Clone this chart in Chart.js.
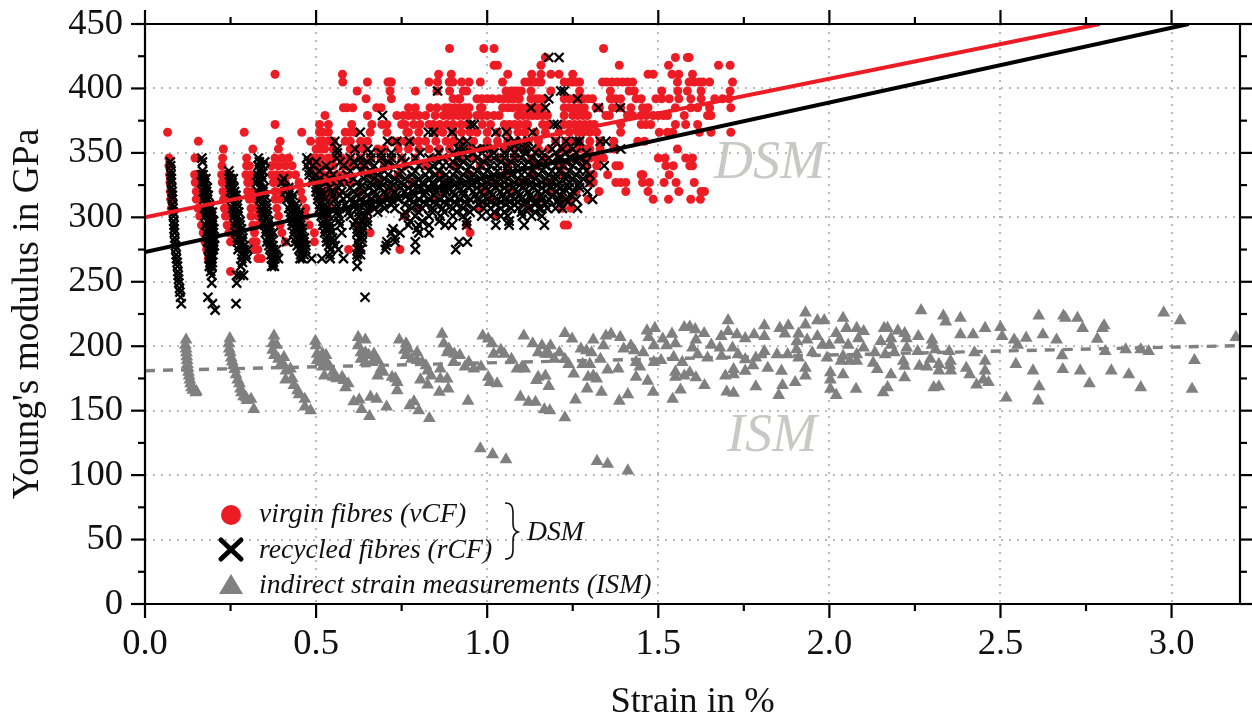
<!DOCTYPE html>
<html>
<head>
<meta charset="utf-8">
<title>Young's modulus vs strain</title>
<script src="https://cdn.jsdelivr.net/npm/chart.js@4"></script>
<style>
  body { margin: 0; background: #fff; }
  canvas { display: block; }
</style>
</head>
<body>
<canvas id="chart" width="1252" height="719"></canvas>
<script>
// Axis ticks
const strainMajor = [0, 0.5, 1.0, 1.5, 2.0, 2.5, 3.0];
const strainMinor = [0.25, 0.75, 1.25, 1.75, 2.25, 2.75];
const modulusMajor = [0, 50, 100, 150, 200, 250, 300, 350, 400, 450];
const modulusMinor = [25, 75, 125, 175, 225, 275, 325, 375, 425];

// Fit lines
const vcfFit = [{x: 0, y: 300}, {x: 2.79, y: 450}];
const rcfFit = [{x: 0, y: 273}, {x: 3.05, y: 450}];
const ismFit = [{x: 0, y: 181}, {x: 3.2, y: 200.5}];

// Virgin fibres: modulus level, then the strains measured at that level
const vcfRows = [
  [431, [.89,.99,1.02,1.34]],
  [424, [1.17,1.55,1.585,1.59]],
  [418, [1.02,1.03,1.157,1.386,1.53,1.676,1.71]],
  [411, [.38,.577,.858,.895,1.06,1.13,1.157,1.186,1.21,1.25,1.47,1.485,1.54,1.56,1.6]],
  [405, [.578,.65,.71,.715,.72,.83,.855,.889,.9,.925,.947,.98,1.045,1.11,1.12,1.13,1.14,1.15,1.157,1.225,1.24,1.25,1.26,1.27,1.337,1.35,1.365,1.38,1.395,1.41,1.425,1.556,1.59,1.605,1.62,1.63,1.65,1.717]],
  [398, [.62,.716,.79,.853,.89,.93,.94,1.055,1.07,1.08,1.09,1.1,1.128,1.186,1.27,1.36,1.415,1.43,1.51,1.557,1.585,1.625,1.71]],
  [392, [.646,.72,.9,.916,.92,.97,.985,1,1.015,1.035,1.05,1.065,1.08,1.094,1.128,1.143,1.153,1.167,1.225,1.24,1.255,1.265,1.28,1.295,1.308,1.36,1.375,1.39,1.435,1.45,1.493,1.51,1.532,1.56,1.595,1.625,1.665,1.688,1.707]],
  [385, [.58,.59,.607,.677,.69,.77,.79,.833,.853,.877,.89,.906,.92,.935,.947,.98,.985,1.045,1.06,1.074,1.09,1.1,1.118,1.133,1.147,1.162,1.225,1.24,1.255,1.27,1.284,1.318,1.328,1.366,1.39,1.42,1.454,1.47,1.55,1.595,1.615,1.65,1.712]],
  [379, [.526,.65,.736,.755,.77,.785,.8,.82,.848,.872,.887,.9,.916,.93,.945,.97,.985,1,1.02,1.035,1.09,1.105,1.12,1.133,1.147,1.162,1.176,1.225,1.25,1.265,1.28,1.293,1.347,1.357,1.41,1.425,1.45,1.465,1.485,1.5,1.515,1.527,1.576,1.644,1.654]],
  [372, [.38,.51,.536,.604,.663,.692,.707,.75,.76,.785,.804,.83,.843,.862,.882,.9,.923,.942,.986,1.01,1.05,1.065,1.08,1.095,1.11,1.118,1.162,1.18,1.225,1.24,1.255,1.27,1.285,1.3,1.313,1.39,1.45,1.464,1.478,1.55,1.58,1.615]],
  [366, [.066,.29,.458,.51,.52,.536,.585,.6,.614,.658,.707,.765,.77,.8,.85,.87,.9,.925,.95,.97,1,1.03,1.06,1.09,1.11,1.14,1.17,1.21,1.24,1.265,1.28,1.3,1.32,1.39,1.503,1.527,1.542,1.62,1.654,1.712]],
  [359, [.156,.395,.484,.51,.52,.535,.55,.585,.6,.63,.65,.72,.74,.76,.78,.8,.82,.85,.88,.9,.93,.96,1,1.03,1.06,1.09,1.12,1.15,1.2,1.23,1.25,1.27,1.3,1.33,1.37,1.44,1.46]],
  [353, [.229,.315,.39,.5,.51,.525,.55,.6,.62,.64,.68,.7,.74,.77,.8,.83,.86,.89,.92,.95,.98,1.02,1.05,1.08,1.11,1.15,1.18,1.22,1.24,1.27,1.29,1.3,1.33,1.37,1.556]],
  [346, [.07,.146,.227,.297,.38,.4,.42,.49,.5,.515,.535,.55,.575,.6,.63,.66,.69,.72,.75,.79,.84,.88,.92,.96,1,1.04,1.08,1.13,1.17,1.21,1.25,1.28,1.3,1.32,1.34,1.5,1.52,1.58,1.6]],
  [340, [.07,.225,.297,.305,.37,.39,.41,.43,.495,.515,.53,.55,.58,.6,.64,.7,.76,.82,.9,.98,1.06,1.14,1.22,1.29,1.32,1.376,1.386,1.522,1.544,1.592,1.6]],
  [333, [.072,.145,.15,.155,.224,.232,.24,.295,.31,.37,.385,.4,.42,.44,.5,.52,.54,.56,.58,.66,.74,.86,.95,1.05,1.13,1.22,1.3,1.31,1.352,1.45,1.455,1.532]],
  [327, [.073,.147,.153,.226,.238,.3,.31,.375,.39,.41,.45,.505,.53,.55,.58,.6,.68,.78,.88,1.02,1.1,1.18,1.3,1.31,1.376,1.39,1.405,1.454,1.474,1.517,1.552,1.605]],
  [320, [.074,.15,.158,.228,.24,.3,.315,.38,.4,.455,.51,.53,.555,.63,.72,.87,.99,1.07,1.19,1.26,1.327,1.405,1.47,1.56,1.625,1.635]],
  [314, [.075,.15,.16,.23,.24,.305,.32,.38,.395,.46,.51,.54,.69,.85,1.01,1.15,1.22,1.245,1.295,1.485,1.53,1.595,1.623]],
  [307, [.077,.155,.165,.232,.245,.31,.325,.385,.47,.52,.54,.66,.8,.98,1.12,1.22,1.245]],
  [301, [.16,.17,.235,.25,.31,.33,.39,.47,.53,.64,.76,1.025]],
  [294, [.165,.24,.255,.315,.33,.395,.48,.62,.94,1.225,1.235]],
  [288, [.17,.245,.26,.32,.4,.495,.658,.95]],
  [281, [.175,.25,.315,.325,.41,.495]],
  [275, [.18,.32,.33,.595,.745]],
  [268, [.185,.33,.34]],
  [262, [.19,.192]],
  [258, [.25]]
];

// Recycled fibres, same layout
const rcfRows = [
  [424, [1.18,1.21]],
  [398, [.855,1.215,1.225]],
  [392, [1.18,1.264]],
  [385, [1.128,1.17,1.325,1.389]],
  [379, [.694]],
  [372, [.952,.962,1.195,1.205]],
  [366, [.629,.828,.843,.897,.898,1.025,1.056,1.133]],
  [359, [.555,.709,.736,.773,.92,.94,1.06,1.08,1.1,1.12,1.2,1.23,1.26,1.27,1.33,1.347]],
  [353, [.562,.614,.651,.916,.93,.97,.99,1,1.07,1.09,1.11,1.13,1.19,1.22,1.25,1.39]],
  [350, [.562,.66,.69,.72,.804,.858,.9,.93,.96,1.02,1.05,1.08,1.11,1.14,1.16,1.2,1.23,1.26,1.29]],
  [346, [.166,.331,.473,.56,.6,.63,.66,.69,.72,.75,.79,.83,.87,.91,.94,.97,1,1.02,1.05,1.08,1.1,1.13,1.16,1.18,1.21,1.24,1.27]],
  [343, [.074,.168,.334,.35,.478,.5,.57,.61,.65,.71,.76,.86,.9,.93,.99,1.04,1.07,1.12,1.15,1.19,1.23,1.26,1.29]],
  [340, [.075,.331,.345,.473,.49,.53,.58,.62,.64,.67,.7,.73,.77,.8,.84,.87,.89,.92,.95,.98,1.01,1.03,1.06,1.09,1.11,1.14,1.17,1.2,1.22,1.25,1.28,1.342]],
  [336, [.076,.168,.245,.335,.345,.48,.51,.54,.6,.63,.66,.7,.75,.79,.83,.86,.91,.94,.97,1,1.03,1.06,1.09,1.13,1.16,1.19,1.21,1.24,1.27,1.29]],
  [333, [.076,.165,.17,.247,.33,.34,.48,.5,.55,.59,.65,.68,.71,.74,.78,.82,.85,.88,.9,.93,.96,.99,1.02,1.04,1.07,1.1,1.12,1.15,1.18,1.2,1.23,1.26,1.3]],
  [330, [.077,.17,.178,.25,.258,.33,.345,.405,.49,.51,.54,.58,.61,.64,.67,.7,.73,.76,.8,.83,.86,.89,.92,.95,.98,1.01,1.04,1.06,1.09,1.11,1.14,1.17,1.2,1.23,1.25,1.28]],
  [327, [.077,.166,.175,.248,.255,.327,.34,.4,.49,.505,.53,.57,.62,.66,.69,.72,.75,.79,.81,.84,.87,.89,.91,.94,.97,1,1.03,1.05,1.08,1.11,1.13,1.16,1.19,1.21,1.24,1.27,1.3]],
  [325, [.635,.665,.695,.725,.755,.785,.815,.845,.875,.905,.935,.955,.985,1.015,1.035,1.065,1.095,1.125,1.145,1.175,1.205,1.235,1.265]],
  [323, [.078,.172,.182,.252,.26,.335,.348,.41,.42,.5,.512,.54,.565,.6,.63,.655,.685,.715,.745,.77,.8,.83,.86,.885,.915,.945,.97,.995,1.025,1.05,1.075,1.105,1.135,1.16,1.185,1.215,1.24,1.27]],
  [320, [.079,.17,.18,.25,.262,.33,.345,.41,.425,.5,.515,.545,.575,.61,.64,.67,.7,.73,.76,.78,.82,.85,.88,.9,.93,.96,.98,1.01,1.04,1.06,1.09,1.12,1.15,1.17,1.2,1.22,1.25,1.293]],
  [317, [.08,.175,.185,.256,.266,.338,.35,.42,.433,.505,.52,.55,.57,.59,.62,.65,.675,.705,.735,.765,.79,.815,.845,.875,.905,.93,.965,.99,1.015,1.045,1.07,1.095,1.125,1.155,1.19,1.215,1.245]],
  [314, [.08,.172,.183,.253,.266,.335,.35,.415,.43,.505,.525,.555,.58,.6,.63,.66,.68,.71,.74,.77,.8,.83,.86,.89,.92,.95,.97,1,1.03,1.05,1.08,1.1,1.13,1.16,1.18,1.21,1.23,1.26,1.308]],
  [312, [.615,.645,.675,.695,.725,.785,.815,.845,.875,.905,.935,.985,1.01,1.04,1.065,1.09,1.115,1.145,1.175,1.205,1.235]],
  [310, [.081,.178,.188,.258,.27,.34,.355,.425,.44,.51,.528,.56,.585,.61,.64,.665,.69,.72,.76,.79,.82,.85,.88,.91,.94,.975,1,1.025,1.055,1.08,1.11,1.14,1.17,1.21]],
  [307, [.082,.174,.185,.19,.256,.27,.34,.355,.42,.435,.445,.51,.53,.56,.59,.62,.65,.67,.7,.73,.78,.81,.84,.87,.9,.93,.96,.99,1.01,1.04,1.07,1.09,1.12,1.15,1.157,1.175,1.2,1.22,1.264]],
  [304, [.083,.18,.19,.197,.26,.274,.343,.357,.425,.44,.452,.515,.532,.562,.595,.625,.65,.68,.76,.8,.84,.875,.91,.95,1.02,1.05,1.1,1.14]],
  [301, [.083,.176,.188,.195,.26,.272,.345,.358,.425,.44,.45,.515,.535,.565,.6,.625,.645,.755,.79,.83,.863,.9,.93,.984,1.01,1.04,1.06,1.103,1.13,1.16]],
  [297, [.084,.182,.193,.2,.264,.278,.348,.362,.43,.447,.455,.52,.537,.567,.615,.632,.65,.775,.81,.86,.94,1.064]],
  [294, [.085,.177,.19,.197,.262,.278,.35,.36,.43,.445,.455,.52,.54,.57,.61,.63,.65,.77,.8,.83,.877,.897,.94,1.025,1.064,1.108,1.167]],
  [291, [.085,.184,.195,.201,.268,.282,.354,.366,.436,.45,.46,.526,.542,.62,.635,.725,.795]],
  [288, [.086,.18,.192,.2,.265,.282,.352,.365,.375,.435,.45,.46,.525,.545,.575,.62,.635,.72,.745,.8,.83]],
  [284, [.087,.186,.196,.203,.27,.286,.358,.37,.44,.456,.466,.53,.548,.625,.635,.73]],
  [281, [.087,.182,.194,.2,.27,.285,.356,.37,.414,.44,.455,.465,.531,.55,.62,.635,.707,.731,.79,.918,.942]],
  [278, [.089,.188,.197,.203,.275,.29,.362,.374,.445,.46,.47,.537,.556,.625,.705]],
  [275, [.09,.185,.195,.2,.272,.29,.3,.365,.375,.385,.45,.46,.47,.541,.565,.622,.63,.702,.79,.908]],
  [271, [.091,.19,.198,.283,.295,.368,.382,.455,.465,.54,.62,.63]],
  [268, [.092,.187,.195,.283,.297,.37,.38,.39,.453,.46,.487,.517,.541,.58,.62]],
  [265, [.094,.19,.197,.285,.375]],
  [262, [.095,.188,.196,.28,.37,.378,.62]],
  [258, [.096,.192]],
  [255, [.097,.195,.268,.278,.288]],
  [252, [.098]],
  [249, [.099,.195,.268]],
  [245, [.101]],
  [242, [.102]],
  [238, [.104,.184,.643]],
  [233, [.106,.197,.266]],
  [228, [.205]]
];

// Indirect strain measurements as [strain, modulus]
const ismPoints = [
  [.12,205],[.118,201],[.12,198],[.121,195],[.122,192],[.123,189],[.124,186],[.126,183],[.127,180],[.129,177],[.131,174],[.133,171],[.136,168],[.14,166],[.15,165],[.148,164],
  [.248,206],[.245,202],[.246,198],[.249,195],[.252,191],[.255,188],[.258,185],[.262,182],[.266,178],[.271,174],[.276,171],[.279,167],[.282,164],[.288,161],[.296,160],[.298,158],[.31,159],[.318,151],
  [.377,208],[.373,202],[.385,201],[.373,197],[.378,193],[.406,191.5],[.39,190],[.4,187.6],[.406,185],[.412,181],[.425,182.5],[.411,174],[.43,175],[.435,169.6],[.446,165.7],[.45,162.6],[.467,159],[.467,153],[.484,150],
  [.498,204],[.5,200.5],[.503,194],[.519,194],[.529,193],[.503,189],[.513,187.6],[.524,189],[.534,186],[.519,184],[.54,184],[.524,177],[.55,180],[.55,176],[.56,175],[.576,176],[.581,173.5],[.594,171],[.586,168],
  [.623,207],[.644,205],[.623,200.5],[.631,195],[.644,195],[.631,190],[.654,193],[.669,194],[.644,187.6],[.665,187.6],[.68,189],[.69,182.5],[.696,180],[.68,177],[.61,157],[.626,158.5],[.633,151],[.656,145.6],[.659,160.6],[.677,159],[.706,153],
  [.743,205],[.763,202],[.758,197],[.769,198],[.763,193],[.795,195],[.779,190],[.795,189],[.81,187.6],[.821,185],[.826,181],[.836,177],[.863,182.5],[.722,176],[.737,172],[.732,175],[.737,165.7],[.805,174],[.826,170],[.863,174.7],[.883,174.7],[.886,167],[.86,164.4],[.774,154],[.786,157],[.8,150],[.831,144],[.944,157.5],
  [.868,209.5],[.873,202],[.888,198],[.883,195],[.904,194],[.92,193],[.902,187.6],[.946,187.6],[.935,184],[.961,182.5],[.982,184],[.987,208],[1.003,205.7],[1.014,202],[1.019,194],[1.04,197],[1.05,194],[1.071,190],[1.087,182.5],[1.102,184],[1.11,182.5],[1.003,176],[1.008,172],[1.029,171],
  [1.097,160.6],[1.121,156.7],[1.141,156.7],[1.167,150.8],[1.183,150],[1.227,144.6],[.98,120.6],[1.016,116],[1.055,112],[1.321,110.8],[1.352,108.5],[1.411,103.4],
  [1.107,208],[1.133,202],[1.16,200.5],[1.185,200.5],[1.149,195],[1.17,194],[1.18,194],[1.149,176],[1.17,177],[1.144,173.5],[1.18,169],[1.211,195],[1.196,190],[1.227,190],[1.238,186],[1.253,178.6],[1.227,210],[1.248,205.7],[1.258,158.5],[1.31,205],[1.34,200.5],[1.347,208],[1.362,209.5],[1.389,207],[1.274,198],[1.29,196.6],[1.305,195],[1.279,186],[1.3,186],[1.331,190],[1.295,176],[1.32,174.7],[1.31,177],[1.292,167],[1.334,164.4],[1.352,181.7],[1.383,182.5],[1.399,198],[1.42,200.5],[1.43,196.6],[1.456,195],[1.435,187.6],[1.446,184],[1.435,176],[1.469,173],[1.485,164.4],[1.386,157.5],[1.411,162.6],[1.467,212],[1.49,214],[1.472,207],[1.487,200.5],[1.487,187.6],[1.513,205.7],[1.54,209.5],[1.524,200.5],[1.55,202],[1.508,189],[1.545,191.5],[1.55,180],[1.55,176],[1.542,159],[1.565,166.2],[1.576,177],[1.576,214.7],[1.57,187.6],
  [1.592,215],[1.608,213],[1.634,210],[1.704,220],[1.704,211.5],[1.73,209],[1.754,206],[1.78,209],[1.684,207.7],[1.81,207.7],[1.81,216],[1.855,214],[1.88,216],[1.87,209.7],[1.91,209.7],[1.93,226],[1.93,216.7],[1.965,220],[1.985,220],[2.04,221.8],[2.05,214],[2.08,214],[2.1,211.5],[1.965,207.7],[1.935,205],[1.905,203.8],[2.02,210],[2.03,205],[2.085,206],[2.16,214],[2.17,214],[2.2,212],[2.22,210],[2.225,206],[2.26,207.7],[2.18,206],[2.15,203.8],[2.18,201],[2.3,205],[2.3,201],
  [1.61,205],[1.655,201],[1.68,198.7],[1.717,198.7],[1.6,198.7],[1.615,193.6],[1.644,191],[1.685,192.3],[1.733,193.6],[1.754,189.7],[1.785,191],[1.81,196],[1.847,193.6],[1.878,193.6],[1.904,197.4],[1.91,191],[1.95,195],[1.993,191],[1.98,201],[2,201],[2.04,192.3],[2.055,201],[2.08,193.6],[2.1,198.7],[2.133,195],[2.163,193.6],[2.19,195],[2.226,198.7],[2.258,196],[2.31,197.4],[2.35,196],[2.424,195],
  [1.592,179.5],[1.61,175.6],[1.635,169.7],[1.696,177],[1.72,182],[1.72,178],[1.754,180.8],[1.777,185],[1.82,183],[1.86,180.8],[1.93,183],[1.93,177],[1.9,172],[1.863,169.7],[1.785,168.7],[1.7,164.6],[1.72,163.6],[1.852,162],[2.003,179.5],[2.003,174],[2.04,178],[2.003,166.7],[2.02,162],[2.078,166.7],[2.06,188.5],[2.08,188.5],[2.034,188.5],[2.128,187],[2.14,182],[2.18,178],[2.22,175.6],[2.216,188.5],[2.22,184.6],[2.157,164],[2.17,168],[2.263,184.6],[2.285,184],[2.295,190],[2.32,186],[2.354,188.5],[2.352,185],[2.32,181],[2.355,181],[2.4,183],[2.41,178],[2.455,188.5],[2.455,181],[2.45,174],[2.465,172],[2.43,170],[2.305,168],[2.32,168.7],
  [2.268,227.7],[2.333,223.6],[2.34,219],[2.383,221.8],[2.383,209],[2.42,209],[2.455,214],[2.5,214.6],[2.505,207.7],[2.54,205],[2.55,201],[2.575,206.4],[2.624,209],[2.612,223.6],[2.684,223.6],[2.69,221.8],[2.725,221.8],[2.74,214],[2.803,216],[2.798,214],[2.664,205],[2.783,205.6],[2.806,196],[2.866,197.4],[2.91,197.4],[2.933,196],[2.977,226],[3.025,220],[3.188,207],[3.067,189],[3.06,166.7],[2.91,168],[2.875,178],[2.824,181],[2.76,171],[2.733,181],[2.682,182],[2.68,192.8],[2.595,181],[2.545,186],[2.613,168.7],[2.61,157.7],[2.517,160]
];

const legendLabels = ["virgin fibres (vCF)", "recycled fibres (rCF)", "indirect strain measurements (ISM)"];
const serif = "'Liberation Serif', 'Times New Roman', serif";
const RED = "#ed1c24", GREY = "#808080", LIGHT = "#c8c8c6";

function rowsToPoints(rows) {
  return rows.flatMap(r => r[1].map(s => ({x: s, y: r[0]})));
}

// Major and minor ticks on all four sides, plus the spines
const frame = {
  id: "frame",
  afterDraw(chart) {
    const {ctx, chartArea: a, scales: {x, y}} = chart;
    ctx.save();
    ctx.strokeStyle = "#000";
    ctx.lineWidth = 2.2;
    const seg = (x1, y1, x2, y2) => {
      ctx.beginPath(); ctx.moveTo(x1, y1); ctx.lineTo(x2, y2); ctx.stroke();
    };
    seg(a.left, a.top, a.right, a.top);
    seg(a.left, a.bottom, a.right, a.bottom);
    seg(a.left, a.top, a.left, a.bottom);
    seg(a.right, a.top, a.right, a.bottom);
    const xTick = (v, len) => {
      const p = x.getPixelForValue(v);
      seg(p, a.bottom, p, a.bottom + len);
      seg(p, a.top, p, a.top - len);
    };
    const yTick = (v, len) => {
      const p = y.getPixelForValue(v);
      seg(a.left, p, a.left - len, p);
      seg(a.right, p, a.right + len, p);
    };
    strainMajor.forEach(v => xTick(v, 14));
    strainMinor.forEach(v => xTick(v, 7));
    modulusMajor.forEach(v => yTick(v, 14));
    modulusMinor.forEach(v => yTick(v, 7));
    ctx.restore();
  }
};

// DSM / ISM captions and the hand placed legend with its brace
const notes = {
  id: "notes",
  afterDraw(chart) {
    const {ctx} = chart;
    ctx.save();
    ctx.textBaseline = "alphabetic";
    ctx.textAlign = "left";
    ctx.fillStyle = LIGHT;
    ctx.font = "italic 54px " + serif;
    ctx.fillText("DSM", 714, 178);
    ctx.fillText("ISM", 727, 451);

    ctx.fillStyle = RED;
    ctx.beginPath(); ctx.arc(231, 515, 10, 0, Math.PI * 2); ctx.fill();

    ctx.strokeStyle = "#000";
    ctx.lineWidth = 5;
    ctx.lineCap = "round";
    ctx.beginPath();
    ctx.moveTo(221, 540); ctx.lineTo(241, 559);
    ctx.moveTo(241, 540); ctx.lineTo(221, 559);
    ctx.stroke();

    ctx.fillStyle = GREY;
    ctx.beginPath();
    ctx.moveTo(231, 574); ctx.lineTo(243, 594); ctx.lineTo(219, 594); ctx.closePath(); ctx.fill();

    ctx.fillStyle = "#111";
    ctx.font = "italic 27.7px " + serif;
    ctx.fillText(legendLabels[0], 259, 522);
    ctx.fillText(legendLabels[1], 259, 558);
    ctx.fillText(legendLabels[2], 259, 593);
    ctx.fillText("DSM", 527, 540);

    // brace
    ctx.lineWidth = 1.6;
    ctx.strokeStyle = "#111";
    ctx.lineCap = "butt";
    ctx.beginPath();
    ctx.moveTo(505, 503);
    ctx.bezierCurveTo(512, 503, 513, 507, 513, 514);
    ctx.lineTo(513, 524);
    ctx.bezierCurveTo(513, 529, 515, 531, 518, 532);
    ctx.bezierCurveTo(515, 533, 513, 535, 513, 540);
    ctx.lineTo(513, 549);
    ctx.bezierCurveTo(513, 555, 512, 559, 505, 559);
    ctx.stroke();
    ctx.restore();
  }
};

new Chart(document.getElementById("chart"), {
  type: "scatter",
  data: {
    datasets: [
      {label: "vCF fit", data: vcfFit, showLine: true, pointRadius: 0, borderColor: RED, borderWidth: 4, order: 1},
      {label: "rCF fit", data: rcfFit, showLine: true, pointRadius: 0, borderColor: "#000", borderWidth: 4, order: 2},
      {label: "recycled fibres (rCF)", data: rowsToPoints(rcfRows), pointStyle: "crossRot", pointRadius: 6.4, pointBorderWidth: 2.3, borderColor: "#000", backgroundColor: "#000", order: 3},
      {label: "virgin fibres (vCF)", data: rowsToPoints(vcfRows), pointStyle: "circle", pointRadius: 4.5, pointBorderWidth: 0, backgroundColor: RED, borderColor: RED, order: 4},
      {label: "indirect strain measurements (ISM)", data: ismPoints.map(p => ({x: p[0], y: p[1]})), pointStyle: "triangle", pointRadius: 7.4, pointBorderWidth: 0, backgroundColor: GREY, borderColor: GREY, order: 5},
      {label: "ISM fit", data: ismFit, showLine: true, pointRadius: 0, borderColor: GREY, borderWidth: 3.4, borderDash: [10, 8], order: 6}
    ]
  },
  options: {
    responsive: false,
    animation: false,
    layout: {padding: {top: 24, right: 12, left: 0, bottom: 0}},
    plugins: {legend: {display: false}, tooltip: {enabled: false}},
    scales: {
      x: {
        type: "linear", min: 0, max: 3.2,
        afterFit: s => { s.height = 115; s.paddingLeft = 0; s.paddingRight = 0; },
        afterBuildTicks: s => { s.ticks = strainMajor.concat(strainMinor).sort((a, b) => a - b).map(v => ({value: v})); },
        border: {display: false, dash: [2, 6]},
        grid: {drawTicks: false, lineWidth: 2, color: c => (strainMajor.includes(c.tick && c.tick.value) && c.tick.value > 0) ? "#b9b9b9" : "transparent"},
        ticks: {
          autoSkip: false, maxRotation: 0, padding: 19, color: "#111",
          font: {family: serif, size: 36.5},
          callback: v => strainMajor.includes(v) ? v.toFixed(1) : ""
        },
        title: {display: true, text: "Strain in %", color: "#111", font: {family: serif, size: 36.5}, padding: {top: 0, bottom: -5}}
      },
      y: {
        type: "linear", min: 0, max: 450,
        afterFit: s => { s.width = 145; s.paddingTop = 0; s.paddingBottom = 0; },
        afterBuildTicks: s => { s.ticks = modulusMajor.concat(modulusMinor).sort((a, b) => a - b).map(v => ({value: v})); },
        border: {display: false, dash: [2, 6]},
        grid: {drawTicks: false, lineWidth: 2, color: c => (modulusMajor.includes(c.tick && c.tick.value) && c.tick.value > 0 && c.tick.value < 450) ? "#b9b9b9" : "transparent"},
        ticks: {
          autoSkip: false, padding: 22, color: "#111",
          font: {family: serif, size: 36.5},
          callback: v => modulusMajor.includes(v) ? String(v) : ""
        },
        title: {display: true, text: "Young's modulus in GPa", color: "#111", font: {family: serif, size: 37.5}, padding: {top: 6, bottom: 0}}
      }
    }
  },
  plugins: [frame, notes]
});
</script>
</body>
</html>
